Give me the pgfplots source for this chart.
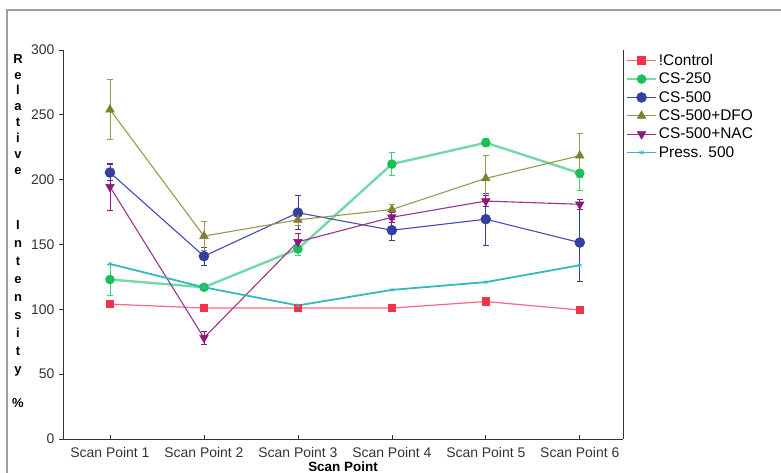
\documentclass[border=0pt]{standalone}
\usepackage{fontspec}
\setmainfont{Liberation Sans}
\usepackage{pgfplots}
\pgfplotsset{compat=1.18}

\definecolor{ctrlline}{rgb}{1,0.4,0.5}
\definecolor{ctrlmark}{rgb}{0.95,0.2,0.3}
\definecolor{csline}{rgb}{0.45,0.85,0.65}
\definecolor{csmark}{rgb}{0.1,0.75,0.35}
\definecolor{bluel}{rgb}{0.25,0.3,0.7}
\definecolor{bluem}{rgb}{0.2,0.25,0.62}
\definecolor{olive}{rgb}{0.6,0.6,0.3}
\definecolor{olivem}{rgb}{0.5,0.5,0.2}
\definecolor{purp}{rgb}{0.6,0.2,0.55}
\definecolor{purpm}{rgb}{0.55,0.1,0.5}
\definecolor{press}{rgb}{0.2,0.72,0.75}

\begin{document}
\begin{tikzpicture}
\useasboundingbox (0,0) rectangle (781bp,473bp);
% outer frame
\draw[gray!75, line width=1.5bp] (7bp,-5bp) -- (7bp,463bp) -- (790bp,463bp);

% stacked y label
\node[anchor=north, align=center, font={\fontsize{13}{16}\selectfont\bfseries}, inner sep=0pt]
  at (18bp,419bp) {R\\e\\l\\a\\t\\i\\v\\e};
\node[anchor=north, align=center, font={\fontsize{13}{18.1}\selectfont\bfseries}, inner sep=0pt]
  at (18bp,253bp) {I\\n\\t\\e\\n\\s\\i\\t\\y};
\node[font={\fontsize{13}{16}\selectfont\bfseries}, inner sep=0pt] at (18bp,70bp) {\%};

\begin{axis}[
at={(63bp,34bp)}, anchor=south west,
scale only axis,
width=560bp, height=389bp,
xmin=0.5, xmax=6.46,
ymin=0, ymax=300,
axis x line*=bottom, axis y line*=left,
axis line style={-, black!80, line width=0.9bp},
xtick={1,2,3,4,5,6},
xticklabels={Scan Point 1,Scan Point 2,Scan Point 3,Scan Point 4,Scan Point 5,Scan Point 6},
ytick={0,50,100,150,200,250,300},
tick align=outside,
major tick length=4bp,
tick style={black!80, line width=0.7bp},
xtick style={yshift=4bp},
tick label style={font=\fontsize{14}{16}\selectfont, text=black!80},
/pgf/number format/assume math mode=true,
xticklabel style={yshift=-1bp},
yticklabel style={xshift=-1bp},
xlabel={\bfseries Scan Point},
xlabel style={font=\fontsize{13.5}{15}\selectfont, yshift=3bp},
legend style={at={(1,1.0)}, anchor=north west, draw=none, fill=none,
  font=\fontsize{15.5}{17}\selectfont, row sep=2.1bp, xshift=0bp,
  inner xsep=3bp},
legend cell align=left,
legend image code/.code={\draw[mark repeat=2,mark phase=2] plot coordinates {(0cm,0cm) (0.5cm,0cm) (1cm,0cm)};},
error bars/error bar style={line width=0.8bp},
error bars/error mark options={rotate=90, mark size=3bp, line width=0.8bp},
clip=false,
]
\draw[black!80, line width=0.9bp] (rel axis cs:1,0) -- (rel axis cs:1,1);

\addplot[color=ctrlline, line width=1.2bp, mark=square*, mark size=3.5bp,
  mark options={fill=ctrlmark, draw=ctrlmark}]
coordinates {(1,104) (2,101) (3,101) (4,101) (5,106) (6,99.5)};
\addlegendentry{!Control}

\addplot[color=csline, line width=2.4bp, mark=*, mark size=4.5bp,
  mark options={fill=csmark, draw=csmark, line width=0.5bp},
  error bars/.cd, y dir=both, y explicit,
  error bar style={color=csmark!80}]
coordinates {(1,123) +- (0,12) (2,117) +- (0,2) (3,146.5) +- (0,5) (4,212) +- (0,9) (5,228.5) +- (0,3) (6,205) +- (0,13)};
\addlegendentry{CS-250}

\addplot[color=bluel, line width=1.1bp, mark=*, mark size=5bp,
  mark options={fill=bluem, draw=bluem, line width=0.5bp},
  error bars/.cd, y dir=both, y explicit,
  error bar style={color=bluem}]
coordinates {(1,205.5) +- (0,6) (2,141) +- (0,7) (3,174.5) +- (0,13) (4,161) +- (0,8) (5,169.5) +- (0,20) (6,151.5) +- (0,30)};
\addlegendentry{CS-500}

\addplot[color=olive, line width=1.1bp, mark=triangle*, mark size=5bp,
  mark options={fill=olivem, draw=olivem, line width=0.5bp},
  error bars/.cd, y dir=both, y explicit,
  error bar style={color=olive}]
coordinates {(1,254) +- (0,23) (2,156.5) +- (0,11) (3,169) +- (0,4) (4,177) +- (0,4) (5,201) +- (0,18) (6,218.5) +- (0,17)};
\addlegendentry{CS-500+DFO}

\addplot[color=purp, line width=1.1bp, mark=triangle*, mark size=5bp,
  mark options={fill=purpm, draw=purpm, rotate=180, line width=0.5bp},
  error bars/.cd, y dir=both, y explicit,
  error bar style={color=purpm}]
coordinates {(1,194.5) +- (0,18) (2,78) +- (0,5) (3,152) +- (0,6.5) (4,171) +- (0,4) (5,183.5) +- (0,4) (6,181) +- (0,4)};
\addlegendentry{CS-500+NAC}

\addplot[color=press, line width=1.8bp, mark=asterisk, mark size=2.5bp,
  mark options={line width=0.6bp}]
coordinates {(1,135) (2,117) (3,103) (4,115) (5,121) (6,134)};
\addlegendentry{Press. 500}
\end{axis}
\end{tikzpicture}
\end{document}
